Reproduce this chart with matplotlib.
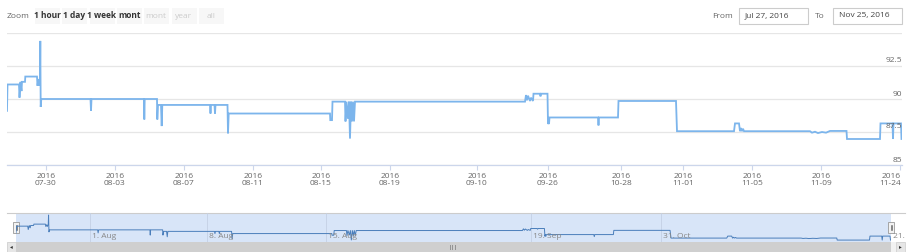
import matplotlib.pyplot as plt
from matplotlib.patches import Rectangle
import matplotlib.transforms as mtransforms

plt.rcParams['font.family'] = ['Open Sans', 'DejaVu Sans']

# series: ordinal position (one unit per pixel column of the plot) and value
pos = [7, 7.5, 19, 19.5, 20.5, 21.5, 22, 25, 25.3, 37, 37.5, 38.3, 39, 40, 40.3, 40.7, 41.3,
       90.5, 91, 91.5, 144, 144.3, 144.7, 157, 157.3, 158, 161, 161.7, 162.3,
       210, 210.5, 211, 214.5, 215, 215.5, 227.5, 228, 228.7,
       330, 330.3, 332, 332.5, 345, 345.5, 346.5, 348, 349, 350, 351, 352, 353, 354, 355,
       525, 526, 527, 528, 530, 531, 533, 533.5, 540, 540.5, 541, 547.5, 548, 548.5, 549, 549.5,
       598, 598.5, 599, 618, 618.5, 676, 677, 734, 735, 739, 740, 741, 742, 743, 744,
       810, 812, 815, 818, 822, 826, 830, 846.5, 847, 880, 880.5, 892.5, 893, 893.5, 901, 901.5]
val = [89.1, 91.1, 91.1, 90.1, 91.3, 90.6, 91.3, 91.3, 91.7, 91.7, 91.0, 91.5, 91.0, 91.7, 94.4, 89.4, 90.0,
       90.0, 89.1, 90.0, 90.0, 88.45, 90.0, 90.0, 88.45, 89.55, 89.55, 87.95, 89.55,
       89.55, 88.9, 89.55, 89.55, 88.9, 89.55, 89.55, 87.4, 88.9,
       88.9, 88.4, 88.4, 89.8, 89.8, 88.3, 89.8, 88.5, 89.8, 87.0, 89.8, 88.3, 89.8, 88.3, 89.8,
       89.8, 90.3, 89.9, 90.25, 89.85, 90.1, 89.85, 90.4, 90.4, 90.2, 90.4, 90.4, 88.1, 88.6, 88.1, 88.6,
       88.6, 88.0, 88.6, 88.6, 89.85, 89.85, 87.56, 87.56, 88.15, 88.15, 87.56, 87.8, 87.56, 87.75, 87.56,
       87.56, 87.45, 87.52, 87.42, 87.5, 87.45, 87.58, 87.58, 86.97, 86.97, 88.15, 88.15, 86.97, 88.15, 88.15, 86.97]

tick_pos = [46, 115, 184, 253, 321, 390, 477, 548, 621, 683, 752, 821, 900]
tick_labels = ['2016\n07-30', '2016\n08-03', '2016\n08-07', '2016\n08-11', '2016\n08-15',
               '2016\n08-19', '2016\n09-10', '2016\n09-26', '2016\n10-28', '2016\n11-01',
               '2016\n11-05', '2016\n11-09', '2016\n11-24']
y_ticks = [85, 87.5, 90, 92.5, 95]
y_labels = ['85', '87.5', '90', '92.5', '']

nav_pos = [82.7, 202.4, 324, 533.8, 666.8, 902]
nav_labels = ['1. Aug', '8. Aug', '15. Aug', '19. Sep', '31. Oct', '21.']

buttons = ['1 hour', '1 day', '1 week', 'mont', 'mont', 'year', 'all']
btn_active = [True, True, True, True, False, False, False]

W, H = 914, 252
fig = plt.figure(figsize=(W / 100, H / 100), dpi=100)


def px_axes(x0, y0, x1, y1, **kw):
    return fig.add_axes([x0 / W, 1 - y1 / H, (x1 - x0) / W, (y1 - y0) / H], **kw)


# overlay for the range selector and input boxes
deco = px_axes(0, 0, W, H, facecolor='none')
deco.set_xlim(0, W)
deco.set_ylim(H, 0)
deco.axis('off')

deco.text(7, 16, 'Zoom', fontsize=6, color='#666666', va='center')
for i, (b, act) in enumerate(zip(buttons, btn_active)):
    cx = 47 + i * 27.3
    deco.add_patch(Rectangle((cx - 12, 8), 25, 16, facecolor='#f7f7f7', edgecolor='none'))
for i, (b, act) in enumerate(zip(buttons, btn_active)):
    cx = 47 + i * 27.3
    if b == 'mont':
        deco.text(cx - 11, 16, b, fontsize=6, va='center', ha='left',
                  color='#333333' if act else '#cccccc', fontweight='bold' if act else 'normal')
    else:
        deco.text(cx, 16, b, fontsize=6, va='center', ha='center',
                  color='#333333' if act else '#cccccc', fontweight='bold' if act else 'normal')

deco.text(733, 16, 'From', fontsize=6, color='#666666', va='center', ha='right')
deco.add_patch(Rectangle((739, 8), 69, 16, facecolor='white', edgecolor='#cccccc', lw=0.8))
deco.text(745, 16, 'Jul 27, 2016', fontsize=6, color='#444444', va='center')
deco.text(825, 16, 'To', fontsize=6, color='#666666', va='center', ha='right')
deco.add_patch(Rectangle((833, 8), 69, 16, facecolor='white', edgecolor='#cccccc', lw=0.8))
deco.text(839, 16, 'Nov 25, 2016', fontsize=6, color='#444444', va='center')

# navigator outline and scrollbar
deco.plot([7, 905], [213, 213], color='#cccccc', lw=0.8)
deco.add_patch(Rectangle((16, 213), 875, 29, facecolor='#d8e5f8', edgecolor='none'))
deco.add_patch(Rectangle((7, 242), 898, 10, facecolor='#f2f2f2', edgecolor='none'))
deco.add_patch(Rectangle((16, 242), 875, 10, facecolor='#cfcfcf', edgecolor='none'))
deco.add_patch(Rectangle((7, 242), 9, 10, facecolor='#e6e6e6', edgecolor='#cccccc', lw=0.5))
deco.add_patch(Rectangle((896, 242), 9, 10, facecolor='#e6e6e6', edgecolor='#cccccc', lw=0.5))
deco.text(11.5, 247, '◂', fontsize=4, color='#333333', ha='center', va='center')
deco.text(900.5, 247, '▸', fontsize=4, color='#333333', ha='center', va='center')
deco.text(453, 247, '|||', fontsize=4, color='#333333', ha='center', va='center')

# main chart
ax = px_axes(7, 33, 902, 165)
ax.plot(pos, val, color='#7cb5ec', lw=1.3, solid_joinstyle='miter')
ax.set_xlim(7, 902)
ax.set_ylim(85, 95)
ax.set_yticks(y_ticks)
ax.yaxis.grid(True, color='#e6e6e6', lw=0.9)
ax.tick_params(axis='y', length=0, labelleft=False)
for spine in ['left', 'right', 'top']:
    ax.spines[spine].set_visible(False)
ax.spines['bottom'].set_color('#ccd6eb')
ax.spines['bottom'].set_linewidth(0.9)
ax.set_xticks(tick_pos)
ax.set_xticklabels(tick_labels, fontsize=6, color='#666666', linespacing=1.15)
ax.tick_params(axis='x', length=3.5, width=0.8, color='#ccd6eb', pad=2)
last = ax.get_xticklabels()[-1]
last.set_ha('right')
last.set_multialignment('right')
last.set_transform(last.get_transform() + mtransforms.ScaledTranslation(1 / 100, 0, fig.dpi_scale_trans))
ytrans = mtransforms.blended_transform_factory(ax.transAxes, ax.transData)
for yv, yl in zip(y_ticks, y_labels):
    ax.text(1.0, yv, yl, transform=ytrans + mtransforms.ScaledTranslation(0, 1.5 / 100, fig.dpi_scale_trans),
            fontsize=6, color='#666666', ha='right', va='bottom')

# navigator series
nav = px_axes(16, 213, 891, 242, facecolor='none')
nav.plot(pos, val, color='#4a7ebb', lw=0.7)
nav.set_xlim(7, 902)
nav.set_ylim(86.4, 95.0)
nav.axis('off')
for p, lab in zip(nav_pos, nav_labels):
    nav.axvline(p, color='#c4d0e4', lw=0.6, zorder=0)
    nav.text(p, 86.4, ' ' + lab, fontsize=6, color='#888888', ha='left', va='bottom', clip_on=False,
             transform=nav.transData + mtransforms.ScaledTranslation(0, 2 / 100, fig.dpi_scale_trans))

# navigator handles
for hx in [13, 888]:
    deco.add_patch(Rectangle((hx, 222), 6, 11, facecolor='#f2f2f2', edgecolor='#999999', lw=0.6, zorder=5))
    deco.plot([hx + 2.5, hx + 2.5], [225, 230], color='#333333', lw=0.4, zorder=6)
    deco.plot([hx + 3.5, hx + 3.5], [225, 230], color='#333333', lw=0.4, zorder=6)

fig.savefig('out.png', dpi=100)
